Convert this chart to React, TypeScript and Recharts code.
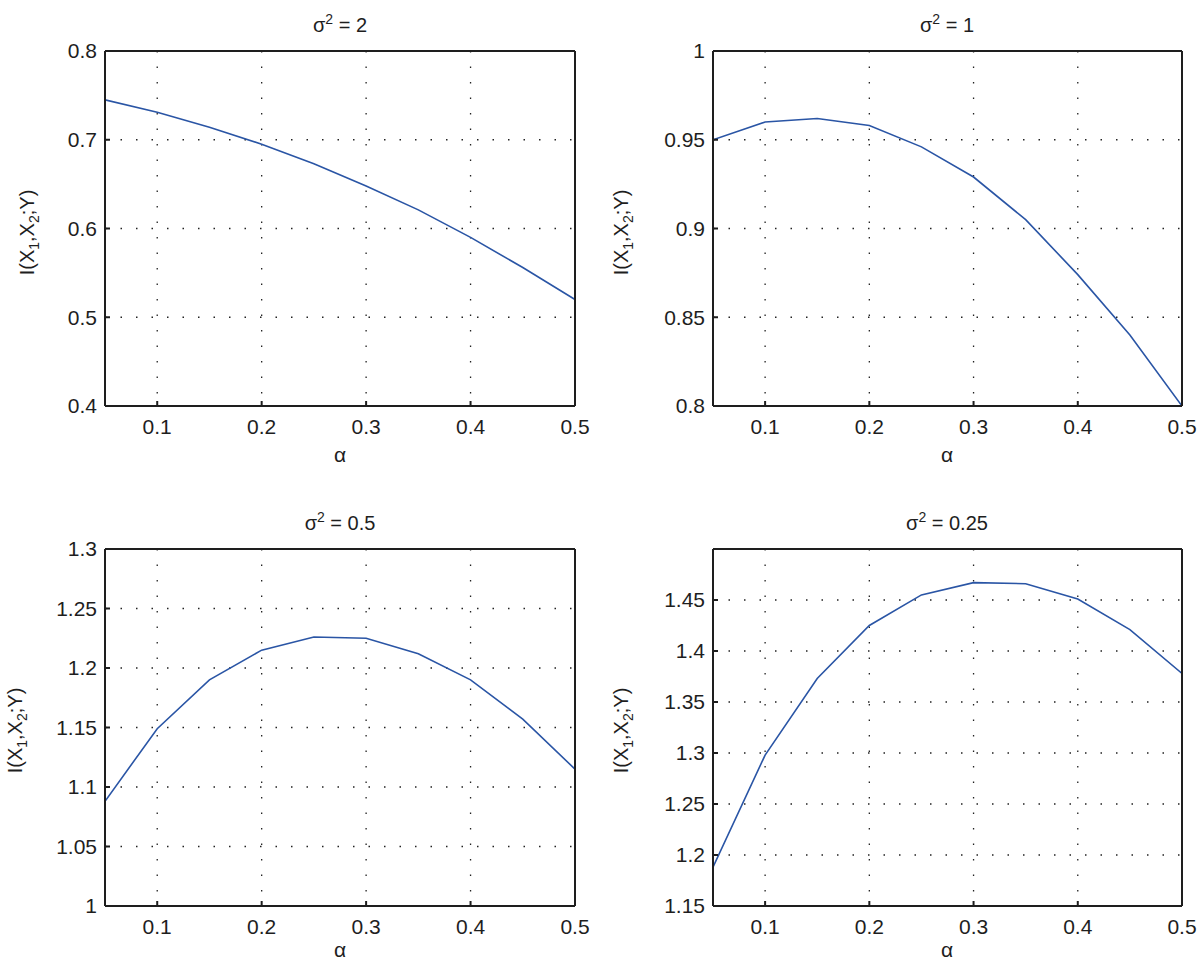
import { LineChart, Line, XAxis, YAxis, CartesianGrid } from 'recharts';

const alpha = [0.05, 0.1, 0.15, 0.2, 0.25, 0.3, 0.35, 0.4, 0.45, 0.5];
const xTicks = [0.1, 0.2, 0.3, 0.4, 0.5];

const iSigma2 = [0.745, 0.731, 0.714, 0.695, 0.673, 0.648, 0.621, 0.59, 0.556, 0.52];
const iSigma1 = [0.95, 0.96, 0.962, 0.958, 0.946, 0.929, 0.905, 0.874, 0.84, 0.8];
const iSigma05 = [1.088, 1.149, 1.19, 1.215, 1.226, 1.225, 1.212, 1.19, 1.157, 1.115];
const iSigma025 = [1.188, 1.298, 1.373, 1.425, 1.455, 1.467, 1.466, 1.451, 1.421, 1.378];

const yTicks2 = [0.4, 0.5, 0.6, 0.7, 0.8];
const yTicks1 = [0.8, 0.85, 0.9, 0.95, 1];
const yTicks05 = [1, 1.05, 1.1, 1.15, 1.2, 1.25, 1.3];
const yTicks025 = [1.15, 1.2, 1.25, 1.3, 1.35, 1.4, 1.45];

const font = '"Liberation Sans", Arial, sans-serif';
const ink = '#1e1e1e';
const blue = '#2a55a5';

type PanelProps = {
  left: number;
  top: number;
  width: number;
  height: number;
  margin: { top: number; right: number; bottom: number; left: number };
  values: number[];
  domain: [number, number];
  yTicks: number[];
};

function Panel({ left, top, width, height, margin, values, domain, yTicks }: PanelProps) {
  const data = alpha.map((a, i) => ({ a, v: values[i] }));
  const tickStyle = { fontSize: 21, fontFamily: font, fill: ink };
  return (
    <div style={{ position: 'absolute', left, top }}>
      <LineChart width={width} height={height} data={data} margin={margin}>
        <CartesianGrid stroke="#222" strokeWidth={1.3} strokeDasharray="1.5 14" />
        <XAxis dataKey="a" type="number" domain={[0.05, 0.5]} ticks={xTicks} allowDataOverflow
          height={40} tickSize={-5} tickMargin={18} stroke={ink} strokeWidth={2} tick={tickStyle} />
        <XAxis xAxisId="top" orientation="top" dataKey="a" type="number" domain={[0.05, 0.5]} ticks={xTicks}
          height={1} tickSize={-5} tick={false} stroke={ink} strokeWidth={2} />
        <YAxis domain={domain} ticks={yTicks} allowDataOverflow width={60} tickSize={-5} tickMargin={13}
          stroke={ink} strokeWidth={2} tick={tickStyle} interval={0} />
        <YAxis yAxisId="right" orientation="right" domain={domain} ticks={yTicks} width={1} tickSize={-5}
          tick={false} stroke={ink} strokeWidth={2} interval={0} />
        <Line type="linear" dataKey="v" stroke={blue} strokeWidth={1.6} dot={false} isAnimationActive={false} />
      </LineChart>
    </div>
  );
}

function Title({ cx, top, value }: { cx: number; top: number; value: string }) {
  return (
    <div style={{ position: 'absolute', left: cx - 100, width: 200, top, textAlign: 'center', fontFamily: font, fontSize: 20, color: ink }}>
      σ<sup style={{ fontSize: 14 }}>2</sup> = {value}
    </div>
  );
}

function YLabel({ cx, cy }: { cx: number; cy: number }) {
  return (
    <div style={{ position: 'absolute', left: cx - 80, top: cy - 12, width: 160, textAlign: 'center', transform: 'rotate(-90deg)',
      fontFamily: font, fontSize: 20, color: ink, lineHeight: '24px', whiteSpace: 'nowrap' }}>
      I(X<sub style={{ fontSize: 14 }}>1</sub>,X<sub style={{ fontSize: 14 }}>2</sub>;Y)
    </div>
  );
}

function XLabel({ cx, top }: { cx: number; top: number }) {
  return (
    <div style={{ position: 'absolute', left: cx - 20, width: 40, top, textAlign: 'center', fontFamily: font, fontSize: 21, color: ink }}>
      α
    </div>
  );
}

export default function App() {
  return (
    <div style={{ position: 'absolute', left: 0, top: 0, width: 1200, height: 965, background: '#fff' }}>
      <Panel left={0} top={0} width={600} height={482} margin={{ top: 50, right: 24, bottom: 36, left: 45 }}
        values={iSigma2} domain={[0.4, 0.8]} yTicks={yTicks2} />
      <Panel left={600} top={0} width={600} height={482} margin={{ top: 50, right: 17, bottom: 36, left: 53 }}
        values={iSigma1} domain={[0.8, 1]} yTicks={yTicks1} />
      <Panel left={0} top={482} width={600} height={483} margin={{ top: 66, right: 24, bottom: 19, left: 45 }}
        values={iSigma05} domain={[1, 1.3]} yTicks={yTicks05} />
      <Panel left={600} top={482} width={600} height={483} margin={{ top: 66, right: 17, bottom: 19, left: 53 }}
        values={iSigma025} domain={[1.15, 1.5]} yTicks={yTicks025} />

      <Title cx={340} top={11} value="2" />
      <Title cx={947} top={11} value="1" />
      <Title cx={340} top={509} value="0.5" />
      <Title cx={947} top={509} value="0.25" />

      <YLabel cx={30} cy={229} />
      <YLabel cx={624} cy={229} />
      <YLabel cx={18} cy={727} />
      <YLabel cx={624} cy={727} />

      <XLabel cx={340} top={443} />
      <XLabel cx={947} top={443} />
      <XLabel cx={340} top={938} />
      <XLabel cx={947} top={938} />
    </div>
  );
}
